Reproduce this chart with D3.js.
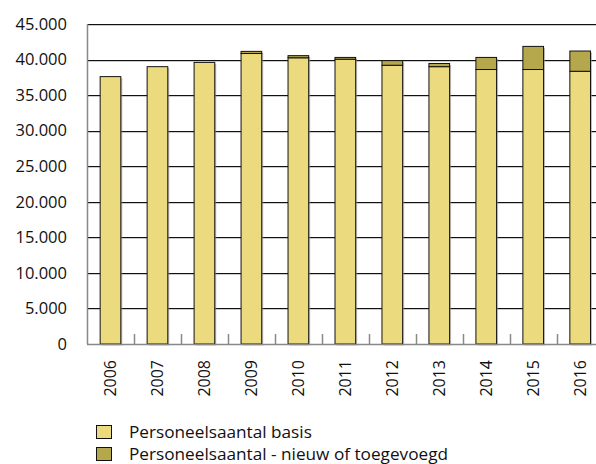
<!DOCTYPE html>
<html><head><meta charset="utf-8">
<script src="https://cdn.jsdelivr.net/npm/d3@7"></script>
<style>body{margin:0;background:#fff}svg{display:block}text{font-family:"Open Sans",sans-serif;fill:#111}</style>
</head><body><svg id="c" width="596" height="464"></svg>
<script>
const years = ["2006","2007","2008","2009","2010","2011","2012","2013","2014","2015","2016"];
const basis = [37600, 39000, 39600, 40850, 40250, 40050, 39200, 39000, 38600, 38600, 38350];
const nieuw = [0, 0, 0, 300, 300, 250, 650, 450, 1700, 3250, 2850];
const yTicks = [0,5000,10000,15000,20000,25000,30000,35000,40000,45000];
const seriesNames = ["Personeelsaantal basis","Personeelsaantal - nieuw of toegevoegd"];
const colors = ["#ecda7e","#b5a84c"];

const svg = d3.select("#c");
const L = 87, T = 24, B = 344, step = 46.97;
const x = d3.scaleBand().domain(years).range([L, L + step*years.length]).paddingInner(0.56).paddingOuter(0.28);
const y = d3.scaleLinear().domain([0,45000]).range([B, T]);
const fmt = v => d3.format(",")(v).replace(/,/g,".");

// gridlines
svg.append("g").selectAll("line").data(yTicks.filter(d=>d>0)).join("line")
  .attr("x1", L).attr("x2", 596).attr("y1", d=>Math.round(y(d))+0.5).attr("y2", d=>Math.round(y(d))+0.5)
  .attr("stroke","#111").attr("stroke-width",1);
svg.append("g").selectAll("line").data(yTicks.filter(d=>d>0)).join("line")
  .attr("x1", L).attr("x2", 596).attr("y1", d=>Math.round(y(d))+1.5).attr("y2", d=>Math.round(y(d))+1.5)
  .attr("stroke","#ccc").attr("stroke-width",1);

// y labels
svg.append("g").selectAll("text").data(yTicks).join("text")
  .attr("x", 67).attr("y", d=>y(d)).attr("dy","0.35em").attr("text-anchor","end")
  .style("font-size","16.5px").text(fmt);

// stacked data
const stack = years.map((yr,i)=>({yr, b:basis[i], n:nieuw[i]}));
const g = svg.append("g");
g.selectAll("rect.sh").data(stack).join("rect").attr("class","sh")
  .attr("x", d=>x(d.yr)+1.5).attr("y", d=>y(d.b+d.n)+1.5)
  .attr("width", x.bandwidth()).attr("height", d=>B - y(d.b+d.n))
  .attr("fill","#999").attr("opacity",0.6);
g.selectAll("rect.b").data(stack).join("rect").attr("class","b")
  .attr("x", d=>x(d.yr)).attr("y", d=>y(d.b))
  .attr("width", x.bandwidth()).attr("height", d=>B - y(d.b))
  .attr("fill", colors[0]).attr("stroke","#111").attr("stroke-width",1);
g.selectAll("rect.n").data(stack.filter(d=>d.n>0)).join("rect").attr("class","n")
  .attr("x", d=>x(d.yr)).attr("y", d=>y(d.b+d.n))
  .attr("width", x.bandwidth()).attr("height", d=>y(d.b)-y(d.b+d.n))
  .attr("fill", colors[1]).attr("stroke","#111").attr("stroke-width",1);

// axes
svg.append("line").attr("x1",L+0.5).attr("x2",L+0.5).attr("y1",T).attr("y2",B).attr("stroke","#888").attr("stroke-width",1.5);
svg.append("line").attr("x1",L).attr("x2",596).attr("y1",B+0.5).attr("y2",B+0.5).attr("stroke","#888").attr("stroke-width",1.5);
svg.append("g").selectAll("line").data(d3.range(1, years.length+1)).join("line")
  .attr("x1", i=>Math.round(L+i*step)+0.5).attr("x2", i=>Math.round(L+i*step)+0.5)
  .attr("y1", B).attr("y2", B-10).attr("stroke","#888").attr("stroke-width",1.5);

// x labels
svg.append("g").selectAll("text").data(years).join("text")
  .attr("transform", d=>`translate(${x(d)+x.bandwidth()/2},360) rotate(-90)`)
  .attr("text-anchor","end").attr("dy","0.35em").style("font-size","16px").text(d=>d);

// legend
const lg = svg.append("g").selectAll("g").data(seriesNames).join("g")
  .attr("transform",(d,i)=>`translate(96,${425+i*22})`);
lg.append("rect").attr("width",15).attr("height",13).attr("x",0.5).attr("y",0.5)
  .attr("fill",(d,i)=>colors[i]).attr("stroke","#111");
lg.append("text").attr("x",33).attr("y",7).attr("dy","0.35em").style("font-size","17.2px").text(d=>d);
</script></body></html>
